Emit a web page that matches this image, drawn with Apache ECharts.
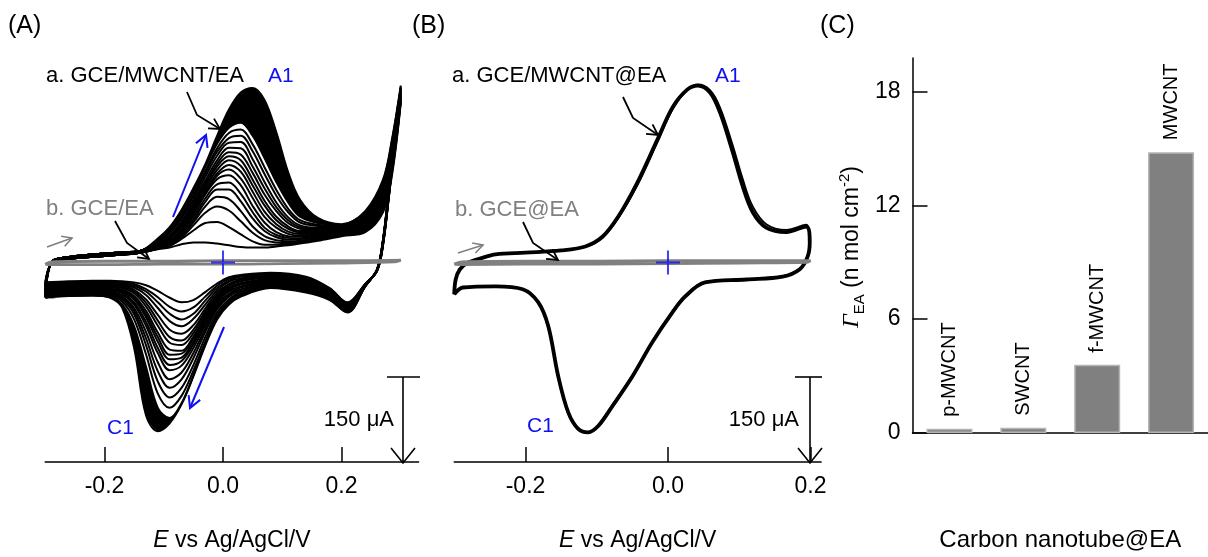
<!DOCTYPE html>
<html><head><meta charset="utf-8">
<script src="https://cdn.jsdelivr.net/npm/echarts@6/dist/echarts.min.js"></script>
<style>html,body{margin:0;padding:0;background:#fff}#c{width:1208px;height:557px}</style>
</head><body><div id="c"></div>
<script>
// ---------- Panel A: repetitive CV cycles (E / V, I / uA) ----------
const EF_SHARED = [-0.29, -0.27, -0.23, -0.18, -0.14];
const IF_SHARED_EARLY = [-2, 5, 9, 13, 17];
const IF_SHARED_LATE = [0, 8, 13, 17, 20];
const EF = [-0.11, -0.09, -0.07, -0.05, -0.03, -0.01, 0.01, 0.03, 0.05, 0.07, 0.09, 0.11, 0.13, 0.16, 0.20, 0.24, 0.27, 0.285, 0.30];
const ER = [0.29, 0.28, 0.27, 0.26, 0.24, 0.21, 0.18, 0.14, 0.08, 0.03, 0.01, -0.01, -0.03, -0.05, -0.07, -0.09, -0.11, -0.13, -0.15, -0.17, -0.19, -0.22, -0.26, -0.30];
const A_FWD = [
 [23, 26, 32, 35, 35, 33, 30, 27, 26, 26, 28, 30, 33, 38, 46, 53, 88, 152, 280],
 [24, 29, 41, 56, 69, 71, 62, 49, 37, 31, 31, 32, 35, 40, 47, 55, 92, 156, 282],
 [24, 30, 44, 65, 87, 98, 91, 72, 52, 39, 35, 34, 36, 41, 48, 57, 95, 160, 284],
 [24, 31, 47, 70, 98, 115, 111, 90, 63, 46, 39, 37, 38, 43, 50, 59, 99, 164, 285],
 [25, 32, 50, 75, 106, 128, 128, 107, 77, 55, 44, 40, 41, 45, 51, 61, 102, 168, 287],
 [26, 34, 53, 80, 112, 137, 140, 120, 88, 61, 48, 43, 42, 46, 52, 63, 105, 172, 289],
 [27, 36, 56, 85, 119, 146, 153, 135, 99, 70, 53, 46, 45, 48, 53, 65, 109, 175, 291],
 [27, 37, 57, 86, 121, 152, 163, 147, 113, 80, 61, 50, 47, 50, 54, 67, 112, 179, 292],
 [28, 38, 59, 89, 125, 156, 171, 159, 124, 89, 67, 54, 50, 51, 55, 70, 116, 183, 294],
 [29, 41, 63, 93, 130, 162, 179, 169, 135, 100, 74, 59, 53, 53, 57, 72, 119, 186, 296],
 [31, 43, 66, 97, 135, 168, 186, 179, 145, 108, 80, 63, 55, 55, 58, 74, 123, 190, 298],
 [31, 44, 68, 100, 138, 173, 193, 189, 157, 119, 90, 69, 59, 57, 59, 77, 126, 194, 300],
 [33, 47, 72, 105, 143, 179, 201, 200, 168, 130, 97, 74, 62, 59, 60, 79, 129, 198, 301],
 [35, 51, 77, 110, 150, 187, 210, 211, 181, 141, 105, 79, 65, 61, 61, 81, 132, 201, 303],
 [37, 54, 81, 116, 156, 194, 218, 222, 195, 155, 117, 88, 70, 64, 62, 84, 136, 205, 305],
 [38, 55, 83, 118, 160, 200, 227, 233, 207, 167, 127, 94, 74, 66, 64, 86, 139, 208, 306],
 [40, 59, 88, 124, 167, 208, 236, 245, 222, 183, 141, 105, 80, 69, 65, 88, 142, 212, 308],
 [42, 62, 92, 130, 172, 222, 268, 298, 306, 285, 228, 158, 110, 78, 67, 90, 145, 215, 310]
];
const A_REV = [
 [205, 115, 30, -15, -38, -70, -45, -25, -18, -22, -26, -37, -52, -66, -70, -62, -50, -40, -35, -33, -32, -32, -33, -35],
 [206, 116, 31, -15, -38, -71, -46, -27, -20, -24, -29, -41, -60, -79, -86, -78, -61, -47, -38, -35, -34, -34, -35, -37],
 [207, 117, 31, -15, -38, -72, -48, -29, -21, -25, -32, -45, -67, -90, -100, -90, -70, -51, -41, -37, -35, -35, -36, -38],
 [209, 118, 32, -14, -39, -73, -49, -30, -23, -28, -34, -49, -74, -99, -112, -103, -80, -57, -44, -39, -37, -37, -38, -40],
 [210, 119, 32, -14, -39, -74, -51, -32, -25, -30, -38, -53, -81, -110, -125, -118, -92, -65, -48, -41, -39, -39, -40, -42],
 [211, 119, 33, -14, -39, -75, -51, -33, -25, -31, -39, -57, -86, -118, -137, -131, -102, -71, -51, -43, -40, -40, -41, -43],
 [212, 120, 34, -14, -39, -76, -52, -35, -27, -33, -41, -59, -90, -124, -145, -141, -111, -77, -54, -45, -42, -42, -43, -45],
 [213, 121, 34, -14, -40, -77, -54, -36, -29, -36, -44, -62, -95, -130, -155, -153, -123, -85, -59, -48, -44, -44, -45, -47],
 [214, 122, 35, -14, -40, -78, -55, -38, -31, -38, -46, -65, -97, -134, -160, -162, -131, -91, -62, -50, -46, -45, -46, -48],
 [216, 123, 35, -13, -40, -80, -56, -40, -32, -39, -49, -68, -102, -139, -167, -170, -139, -96, -65, -52, -48, -47, -48, -50],
 [217, 124, 36, -13, -40, -81, -58, -42, -34, -42, -51, -70, -105, -144, -173, -180, -150, -104, -70, -54, -50, -49, -50, -52],
 [218, 125, 36, -13, -41, -82, -60, -43, -36, -44, -55, -74, -110, -150, -181, -189, -159, -111, -74, -57, -52, -50, -51, -53],
 [219, 126, 37, -13, -41, -83, -61, -45, -38, -47, -57, -78, -116, -159, -193, -205, -175, -122, -80, -60, -53, -52, -53, -55],
 [220, 126, 38, -13, -41, -84, -61, -46, -38, -49, -60, -82, -122, -168, -205, -220, -191, -133, -85, -62, -55, -53, -54, -56],
 [221, 127, 38, -13, -41, -85, -62, -48, -40, -52, -65, -88, -131, -180, -220, -237, -209, -145, -91, -65, -57, -55, -56, -58],
 [223, 128, 39, -12, -42, -86, -64, -49, -42, -55, -68, -93, -139, -190, -234, -255, -230, -161, -100, -69, -59, -57, -58, -60],
 [224, 129, 39, -12, -42, -87, -65, -51, -43, -57, -71, -97, -143, -198, -247, -273, -255, -183, -112, -74, -61, -58, -59, -61],
 [225, 130, 40, -12, -42, -88, -66, -53, -45, -60, -74, -100, -146, -200, -249, -282, -296, -268, -150, -80, -62, -58, -58, -62]
];
// GCE/EA control (grey)
const GA_E = [-0.300, -0.290, -0.20, -0.10, 0.00, 0.10, 0.20, 0.300, 0.290, 0.20, 0.10, 0.00, -0.10, -0.20, -0.290, -0.300];
const GA_I = [-3, 1, 2, 2, 3, 3, 3, 4, 1, -1, -2, -3, -3, -4, -4, -3];

// ---------- Panel B ----------
const B_E = [-0.300, -0.298, -0.292, -0.280, -0.263, -0.242, -0.200, -0.150, -0.116, -0.092, -0.070, -0.043, -0.015, 0.007, 0.027, 0.042, 0.059, 0.073, 0.091, 0.105, 0.119, 0.138, 0.166, 0.194, 0.199, 0.196, 0.185, 0.161, 0.110, 0.052, 0.024, 0.006, -0.022, -0.050, -0.078, -0.098, -0.112, -0.126, -0.140, -0.154, -0.168, -0.182, -0.204, -0.242, -0.288, -0.300];
const B1_I = [-56, -30, -12, 0, 7, 14, 17, 21, 28, 45, 80, 140, 215, 273, 303, 310, 298, 263, 193, 133, 88, 61, 53, 63, 35, 10, -12, -25, -30, -35, -60, -88, -140, -200, -252, -287, -298, -292, -263, -200, -112, -70, -47, -42, -44, -56];
const B2_I = [-56, -30, -12, 0, 7, 14, 17, 21, 27, 43, 77, 135, 210, 270, 302, 312, 302, 272, 205, 146, 98, 67, 57, 66, 37, 11, -11, -24, -29, -34, -58, -86, -138, -198, -250, -286, -299, -293, -265, -203, -114, -71, -47, -42, -44, -56];
const GB_E = [-0.300, -0.290, -0.20, -0.10, 0.00, 0.10, 0.200, 0.195, 0.10, 0.00, -0.10, -0.20, -0.290, -0.300];
const GB_I = [-3, 1, 2, 2, 3, 3, 3, 0, -1, -2, -3, -3, -4, -3];

const X_TICKS = [-0.2, 0, 0.2];
const ORIGIN = [[0, 0]];

// ---------- Panel C ----------
const C_CATS = ['p-MWCNT', 'SWCNT', 'f-MWCNT', 'MWCNT'];
const C_VALS = [0.22, 0.28, 3.6, 14.8];
const C_TICKS = [0, 6, 12, 18];

// ================= build =================
const FONT = '"Liberation Sans", Arial, Helvetica, sans-serif';
const BLUE = '#1010f0', GREY = '#808080';
const chart = echarts.init(document.getElementById('c'));

function loopA(i) {
  const f = A_FWD[i], r = A_REV[i];
  const base = i < 8 ? IF_SHARED_EARLY : IF_SHARED_LATE;
  const pts = [[-0.30, r[r.length - 1]]];
  EF_SHARED.forEach((e, k) => pts.push([e, base[k]]));
  EF.forEach((e, k) => pts.push([e, f[k]]));
  ER.forEach((e, k) => pts.push([e, r[k]]));
  return pts;
}
const zip = (xs, ys) => xs.map((x, k) => [x, ys[k]]);

function lineS(g, data, color, width, z) {
  return { type: 'line', xAxisIndex: g, yAxisIndex: g, data, showSymbol: false, symbol: 'none',
    smooth: 0.35, lineStyle: { color, width }, z, silent: true, animation: false };
}
function polyS(pts, fill, z) {
  const ring = pts.slice(0, pts.length - 1);
  return { type: 'custom', xAxisIndex: 0, yAxisIndex: 0, z, silent: true, animation: false,
    data: ring,
    renderItem: (params, api) => {
      if (params.dataIndex !== 0) return null;
      return { type: 'polygon', shape: { points: ring.map(p => api.coord(p)), smooth: 0.3 },
        style: { fill, stroke: null } };
    } };
}
function plusS(g) {
  return { type: 'scatter', xAxisIndex: g, yAxisIndex: g, data: ORIGIN, z: 6, silent: true, animation: false,
    symbol: 'path://M12,0L12,24M0,12L24,12', symbolSize: 24,
    itemStyle: { color: 'none', borderColor: BLUE, borderWidth: 2 } };
}

const series = [];
const nA = A_FWD.length;
series.push(polyS(loopA(nA - 1), '#000', 1));
series.push(polyS(loopA(nA - 2), '#fff', 2));
for (let i = 0; i < nA; i++) series.push(lineS(0, loopA(i), '#000', 2.0, 3));
series.push(lineS(0, zip(GA_E, GA_I), GREY, 2.8, 4));
series.push(plusS(0));
series.push(lineS(1, zip(B_E, B1_I), '#000', 3.8, 3));
series.push(lineS(1, zip(B_E, B2_I), '#000', 1.8, 3));
series.push(lineS(1, zip(GB_E, GB_I), GREY, 2.8, 4));
series.push(plusS(1));
series.push({ type: 'bar', xAxisIndex: 2, yAxisIndex: 2, data: C_VALS, barWidth: 46, animation: false,
  itemStyle: { color: '#808080', borderColor: '#b4b4b4', borderWidth: 1.5 },
  label: { show: true, position: 'top', rotate: 90, align: 'left', verticalAlign: 'middle', distance: 12,
    formatter: p => p.name, fontSize: 20, fontFamily: FONT, color: '#000' } });

const axLine = { show: true, onZero: false, lineStyle: { color: '#000', width: 1.5 } };
const eName = '{i|E}{n| vs Ag/AgCl/V}';
const eNameStyle = { fontSize: 23, fontFamily: FONT, color: '#000',
  rich: { i: { fontStyle: 'italic', fontSize: 23, fontFamily: FONT, color: '#000' },
          n: { fontSize: 23, fontFamily: FONT, color: '#000' } } };
function eAxis(g, min, max) {
  return { gridIndex: g, type: 'value', min, max, axisLine: axLine,
    axisTick: { show: true, inside: true, length: 15, customValues: X_TICKS, lineStyle: { color: '#000', width: 1.5 } },
    axisLabel: { customValues: X_TICKS, formatter: v => Number(v).toFixed(1), fontSize: 23, fontFamily: FONT, color: '#000', margin: 13 },
    splitLine: { show: false },
    name: eName, nameLocation: 'middle', nameGap: 67, nameTextStyle: eNameStyle };
}

// annotations
function arrow(pts, color, w, L) {
  const [x1, y1] = pts[pts.length - 2], [x2, y2] = pts[pts.length - 1];
  const a = Math.atan2(y2 - y1, x2 - x1), h = 0.5;
  const p1 = [x2 - L * Math.cos(a - h), y2 - L * Math.sin(a - h)];
  const p2 = [x2 - L * Math.cos(a + h), y2 - L * Math.sin(a + h)];
  return [
    { type: 'polyline', z: 20, silent: true, shape: { points: pts }, style: { stroke: color, lineWidth: w, fill: 'none' } },
    { type: 'polyline', z: 20, silent: true, shape: { points: [p1, [x2, y2], p2] }, style: { stroke: color, lineWidth: w, fill: 'none' } }
  ];
}
function txt(text, x, y, color, size, align) {
  return { type: 'text', z: 20, silent: true, x, y,
    style: { text, fill: color, fontSize: size, fontFamily: FONT, textAlign: align || 'left', textVerticalAlign: 'middle' } };
}
function scaleBar(x, yTop, yBot, capL, capR) {
  return [
    { type: 'polyline', z: 20, silent: true, shape: { points: [[x, yTop], [x, yBot]] }, style: { stroke: '#000', lineWidth: 1.6, fill: 'none' } },
    { type: 'polyline', z: 20, silent: true, shape: { points: [[capL, yTop], [capR, yTop]] }, style: { stroke: '#000', lineWidth: 1.6, fill: 'none' } },
    { type: 'polyline', z: 20, silent: true, shape: { points: [[x - 12, yBot - 15], [x, yBot], [x + 12, yBot - 15]] }, style: { stroke: '#000', lineWidth: 1.6, fill: 'none' } }
  ];
}
const gfx = [].concat(
  [txt('(A)', 8, 26, '#000', 25), txt('(B)', 412, 26, '#000', 25), txt('(C)', 820, 26, '#000', 25)],
  [txt('a. GCE/MWCNT/EA', 46, 76, '#000', 22), txt('A1', 268, 76, BLUE, 21),
   txt('b. GCE/EA', 46, 209, GREY, 22), txt('C1', 107, 428, BLUE, 21),
   txt('150 μA', 394, 420, '#000', 22, 'right')],
  arrow([[187, 92], [197, 115], [220, 129]], '#000', 1.8, 12),
  arrow([[115, 221], [127, 243], [149, 259]], '#000', 1.8, 12),
  arrow([[47, 247], [72, 238]], GREY, 1.6, 11),
  arrow([[173, 217], [206, 135]], BLUE, 2, 13),
  arrow([[224, 327], [190, 408]], BLUE, 2, 13),
  scaleBar(403, 377, 463, 387, 420),
  [txt('a. GCE/MWCNT@EA', 452, 76, '#000', 22), txt('A1', 715, 76, BLUE, 21),
   txt('b. GCE@EA', 455, 210, GREY, 22), txt('C1', 527, 426, BLUE, 21),
   txt('150 μA', 799, 420, '#000', 22, 'right')],
  arrow([[623, 97], [633, 118], [658, 135]], '#000', 1.8, 12),
  arrow([[523, 222], [533, 243], [558, 260]], '#000', 1.8, 12),
  arrow([[458, 253], [483, 245]], GREY, 1.6, 11),
  scaleBar(810, 377, 463, 795, 822),
  [{ type: 'text', z: 20, silent: true, x: 852, y: 247, rotation: Math.PI / 2,
     style: { text: '{g|Γ}{s|EA}{m| (n mol cm}{p|-2}{m|)}', textAlign: 'center', textVerticalAlign: 'middle',
       rich: {
         g: { fontSize: 24, fontFamily: '"Liberation Serif", serif', fontStyle: 'italic', fill: '#000', lineHeight: 30, verticalAlign: 'middle' },
         s: { fontSize: 15, fontFamily: FONT, fill: '#000', lineHeight: 15, verticalAlign: 'bottom' },
         m: { fontSize: 23, fontFamily: FONT, fill: '#000', lineHeight: 30, verticalAlign: 'middle' },
         p: { fontSize: 15, fontFamily: FONT, fill: '#000', lineHeight: 15, verticalAlign: 'top' }
       } } }]
);

chart.setOption({
  animation: false,
  textStyle: { fontFamily: FONT },
  grid: [
    { left: 45.25, top: 40, width: 373.3, height: 423 },
    { left: 454.25, top: 40, width: 366.9, height: 423 },
    { left: 912.5, top: 58, width: 308, height: 377 }
  ],
  xAxis: [
    eAxis(0, -0.3, 0.33),
    eAxis(1, -0.3, 0.215),
    { gridIndex: 2, type: 'category', data: C_CATS, axisLine: axLine, axisTick: { show: false }, axisLabel: { show: false },
      name: 'Carbon nanotube@EA', nameLocation: 'middle', nameGap: 95,
      nameTextStyle: { fontSize: 24, fontFamily: FONT, color: '#000' } }
  ],
  yAxis: [
    { gridIndex: 0, type: 'value', min: -350, max: 390, show: false },
    { gridIndex: 1, type: 'value', min: -350, max: 390, show: false },
    { gridIndex: 2, type: 'value', min: 0, max: 19.76, axisLine: axLine,
      axisTick: { show: true, inside: true, length: 15, customValues: C_TICKS, lineStyle: { color: '#000', width: 1.5 } },
      axisLabel: { customValues: C_TICKS, fontSize: 23, fontFamily: FONT, color: '#000', margin: 12 },
      splitLine: { show: false } }
  ],
  series,
  graphic: gfx
});
</script></body></html>
